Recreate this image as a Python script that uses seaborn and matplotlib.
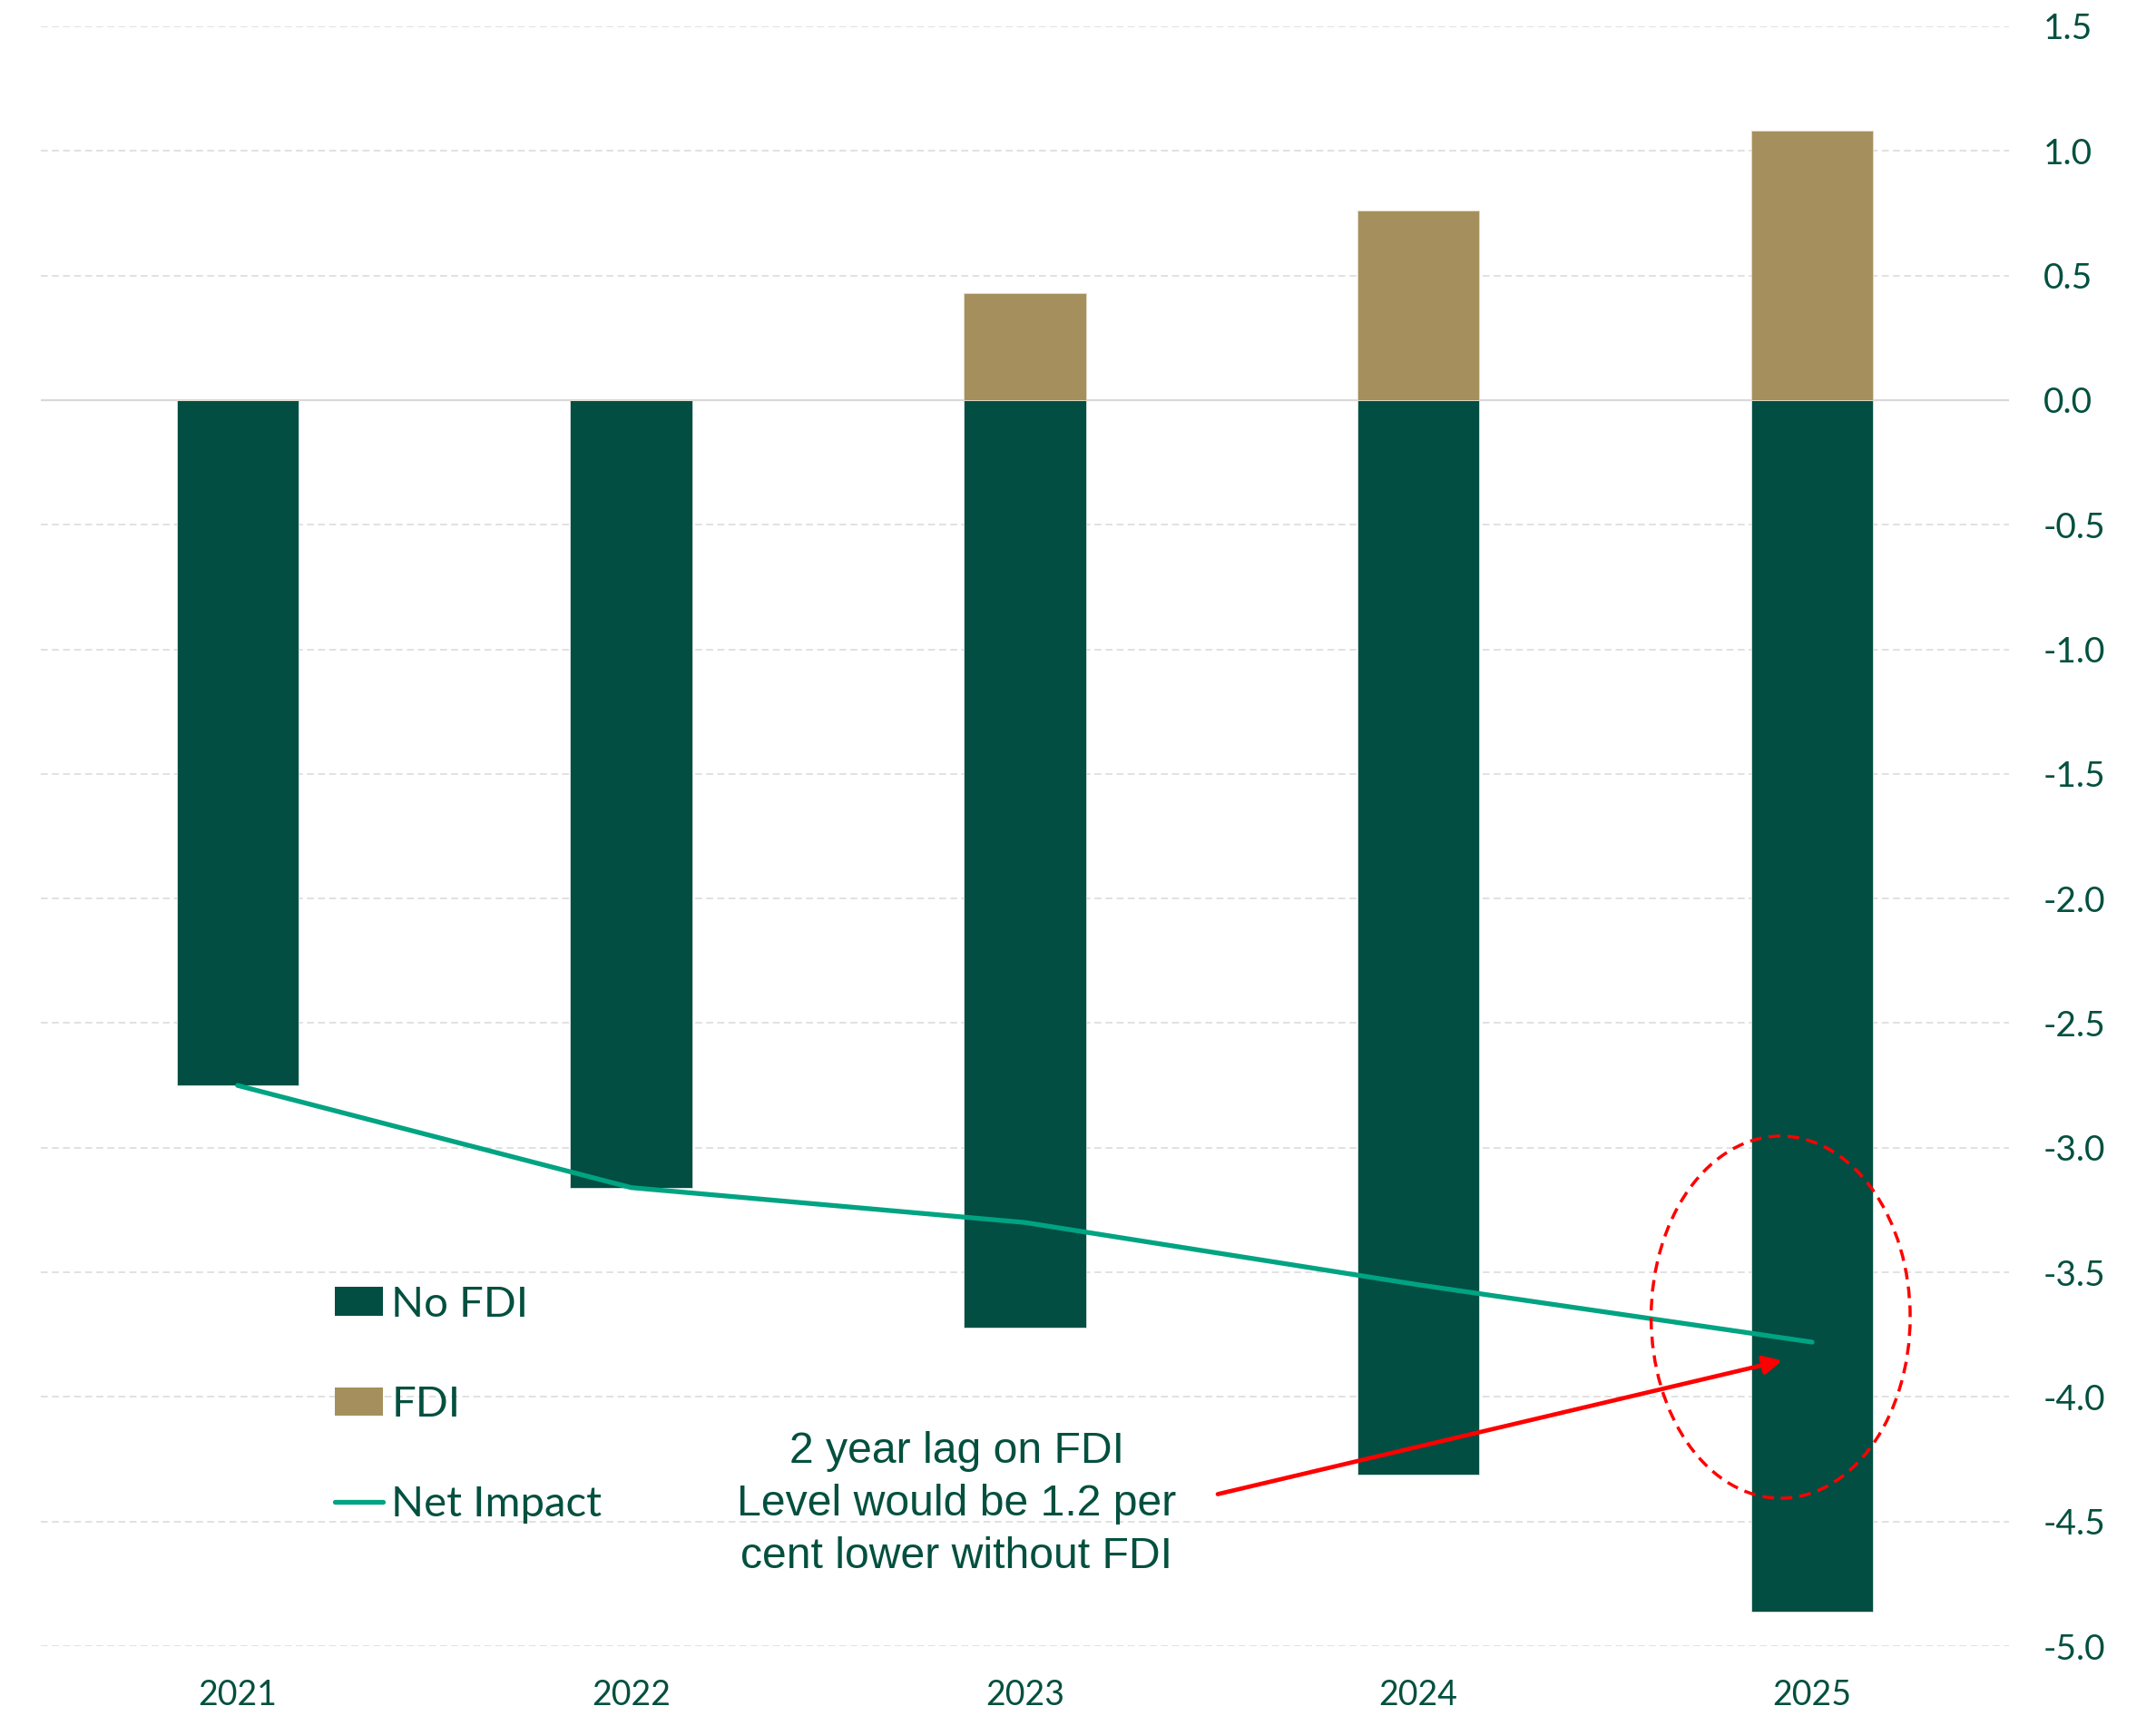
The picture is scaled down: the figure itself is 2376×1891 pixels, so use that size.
import numpy as np
import pandas as pd
import seaborn as sns
import matplotlib
matplotlib.use("Agg")
import matplotlib.pyplot as plt
from matplotlib.patches import Ellipse, Patch
from matplotlib.lines import Line2D
from matplotlib.ticker import FormatStrFormatter, MultipleLocator

# ---- data -------------------------------------------------------------
years = ["2021", "2022", "2023", "2024", "2025"]
no_fdi = [-2.75, -3.16, -3.72, -4.31, -4.86]
fdi = [0.0, 0.0, 0.43, 0.76, 1.08]
net_impact = [-2.75, -3.16, -3.30, -3.55, -3.78]

note_text = "2 year lag on FDI\nLevel would be 1.2 per\ncent lower without FDI"

# ---- style ------------------------------------------------------------
DARK = "#024E43"
TAN = "#A5905D"
LINE = "#00A382"
TEXT = "#03503F"
GRID = "#D9D9D9"

sns.set_theme(style="white")
plt.rcParams["font.family"] = ["Lato", "DejaVu Sans"]
plt.rcParams["axes.unicode_minus"] = False

df = pd.DataFrame({"year": years, "no_fdi": no_fdi, "fdi": fdi})

fig = plt.figure(figsize=(23.76, 18.91), dpi=100)
ax = fig.add_axes([0.0189, 0.0407, 0.9129, 0.9440])

# bars: negative component below zero, FDI stacked above zero
sns.barplot(data=df, x="year", y="no_fdi", color=DARK, saturation=1,
            width=0.31, edgecolor="#DDE5E2", linewidth=0.6, ax=ax, zorder=2)
sns.barplot(data=df, x="year", y="fdi", color=TAN, saturation=1,
            width=0.31, edgecolor="#E2DCCB", linewidth=0.6, ax=ax, zorder=2)

# net impact line
sns.lineplot(x=np.arange(len(years)), y=net_impact, color=LINE, linewidth=3.8,
             ax=ax, zorder=3, solid_capstyle="round")

ax.set_xlim(-0.5, len(years) - 0.5)
ax.set_ylim(-5.0, 1.5)
ax.yaxis.set_major_locator(MultipleLocator(0.5))
ax.yaxis.set_major_formatter(FormatStrFormatter("%.1f"))
ax.yaxis.tick_right()
ax.set_xlabel("")
ax.set_ylabel("")

for s in ax.spines.values():
    s.set_visible(False)

ax.yaxis.grid(True, linestyle=(0, (5, 3)), color=GRID, linewidth=1.1, zorder=0)
ax.xaxis.grid(False)
ax.set_axisbelow(True)
ax.axhline(0, color=GRID, linewidth=1.6, zorder=1)

ax.tick_params(axis="y", length=0, pad=27, labelsize=28, labelcolor=TEXT)
ax.tick_params(axis="x", length=0, pad=26, labelsize=27, labelcolor=TEXT)

# highlight on the final year
ell = Ellipse((3.92, -3.68), width=0.658, height=1.453, fill=False,
              edgecolor="#FF0000", linewidth=2.5, linestyle=(0, (3.7, 2.3)),
              zorder=4)
ax.add_patch(ell)

ax.annotate("", xy=(3.924, -3.854), xytext=(2.49, -4.39),
            arrowprops=dict(arrowstyle="-|>,head_length=0.6,head_width=0.3",
                            mutation_scale=20, lw=3.4, color="#FF0000",
                            shrinkA=0, shrinkB=0),
            zorder=5)

ax.text(1.827, -4.43, note_text, ha="center", va="center",
        fontsize=34.7, color=TEXT, family=["Liberation Sans", "DejaVu Sans"],
        linespacing=1.38, zorder=5)

# legend
handles = [
    Patch(facecolor=DARK, edgecolor="none", label="No FDI"),
    Patch(facecolor=TAN, edgecolor="none", label="FDI"),
    Line2D([], [], color=LINE, linewidth=3.8, solid_capstyle="round",
           label="Net Impact"),
]
leg = fig.legend(handles=handles, loc="center left",
                 bbox_to_anchor=(369 / 2376, 1 - 1548 / 1891),
                 frameon=False, fontsize=34, labelcolor=TEXT,
                 handlelength=1.12, handleheight=0.64, handletextpad=0.2,
                 labelspacing=1.45, borderpad=0, borderaxespad=0)

fig.savefig("out.png", dpi=100, facecolor="white")
